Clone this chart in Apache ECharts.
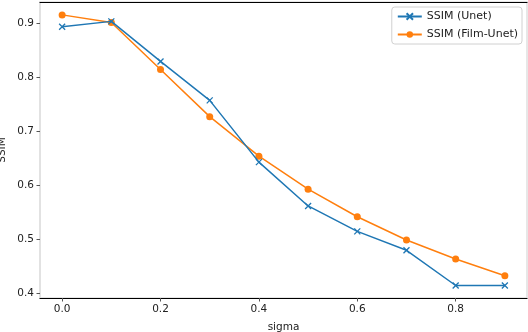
<!DOCTYPE html>
<html>
<head>
<meta charset="utf-8">
<script src="https://cdn.jsdelivr.net/npm/echarts@6/dist/echarts.min.js"></script>
<style>
html, body { margin: 0; padding: 0; background: #fff; }
#chart { width: 528px; height: 332px; }
</style>
</head>
<body>
<div id="chart"></div>
<script>
// data
const sigma = [0.0, 0.1, 0.2, 0.3, 0.4, 0.5, 0.6, 0.7, 0.8, 0.9];
const ssimUnet = [0.893, 0.903, 0.829, 0.757, 0.643, 0.562, 0.515, 0.480, 0.415, 0.415];
const ssimFilmUnet = [0.915, 0.901, 0.814, 0.727, 0.654, 0.593, 0.542, 0.499, 0.464, 0.433];
const xTicks = [0.0, 0.2, 0.4, 0.6, 0.8];
const yTicks = [0.4, 0.5, 0.6, 0.7, 0.8, 0.9];

const font = 'DejaVu Sans';
const crossPath = 'path://M0,0L10,10M10,0L0,10';

const chart = echarts.init(document.getElementById('chart'));
chart.setOption({
    animation: false,
    textStyle: { fontFamily: font },
    grid: {
        left: 40, right: 1, top: 2, bottom: 34,
        containLabel: false, outerBoundsMode: 'none',
        show: true, borderColor: '#e0e0e0', borderWidth: 1.5
    },
    legend: {
        right: 6, top: 7,
        orient: 'vertical',
        itemWidth: 24, itemHeight: 8, itemGap: 7,
        padding: [4, 4, 4, 5],
        backgroundColor: '#fff',
        borderColor: '#d0d0d0', borderWidth: 1, borderRadius: 3,
        textStyle: { fontFamily: font, fontSize: 11, color: '#222' },
        data: ['SSIM (Unet)', 'SSIM (Film-Unet)']
    },
    xAxis: [{
        type: 'value',
        min: -0.045, max: 0.945,
        name: 'sigma', nameLocation: 'middle', nameGap: 24, nameMoveOverlap: false,
        nameTextStyle: { fontFamily: font, fontSize: 10.5, color: '#222' },
        splitLine: { show: false },
        axisLine: { show: true, onZero: false, lineStyle: { color: '#000', width: 1.2 } },
        axisTick: { show: true, length: 3.5, customValues: xTicks, lineStyle: { color: '#555' } },
        axisLabel: {
            customValues: xTicks, margin: 6,
            fontFamily: font, fontSize: 10.5, color: '#222',
            formatter: v => v.toFixed(1)
        }
    }, {
        type: 'value', position: 'top',
        min: -0.045, max: 0.945,
        splitLine: { show: false },
        axisLine: { show: true, onZero: false, lineStyle: { color: '#000', width: 1.2 } },
        axisTick: { show: false },
        axisLabel: { show: false }
    }],
    yAxis: {
        type: 'value',
        min: 0.3919, max: 0.9388,
        name: 'SSIM', nameLocation: 'middle', nameGap: 32, nameRotate: 90, nameMoveOverlap: false,
        nameTextStyle: { fontFamily: font, fontSize: 10.5, color: '#222' },
        splitLine: { show: false },
        axisLine: { show: true, onZero: false, lineStyle: { color: '#e0e0e0', width: 1.5 } },
        axisTick: { show: true, length: 3.5, customValues: yTicks, lineStyle: { color: '#555' } },
        axisLabel: {
            customValues: yTicks, margin: 6,
            fontFamily: font, fontSize: 10.5, color: '#222',
            formatter: v => v.toFixed(1)
        }
    },
    series: [{
        name: 'SSIM (Unet)',
        type: 'line',
        data: sigma.map((s, i) => [s, ssimUnet[i]]),
        symbol: crossPath, symbolSize: 6,
        itemStyle: { color: '#1f77b4', borderColor: '#1f77b4', borderWidth: 1.3 },
        lineStyle: { color: '#1f77b4', width: 1.5 },
        z: 3
    }, {
        name: 'SSIM (Film-Unet)',
        type: 'line',
        data: sigma.map((s, i) => [s, ssimFilmUnet[i]]),
        symbol: 'circle', symbolSize: 7,
        itemStyle: { color: '#ff7f0e', borderWidth: 0 },
        lineStyle: { color: '#ff7f0e', width: 1.5 },
        z: 2
    }]
});
</script>
</body>
</html>
